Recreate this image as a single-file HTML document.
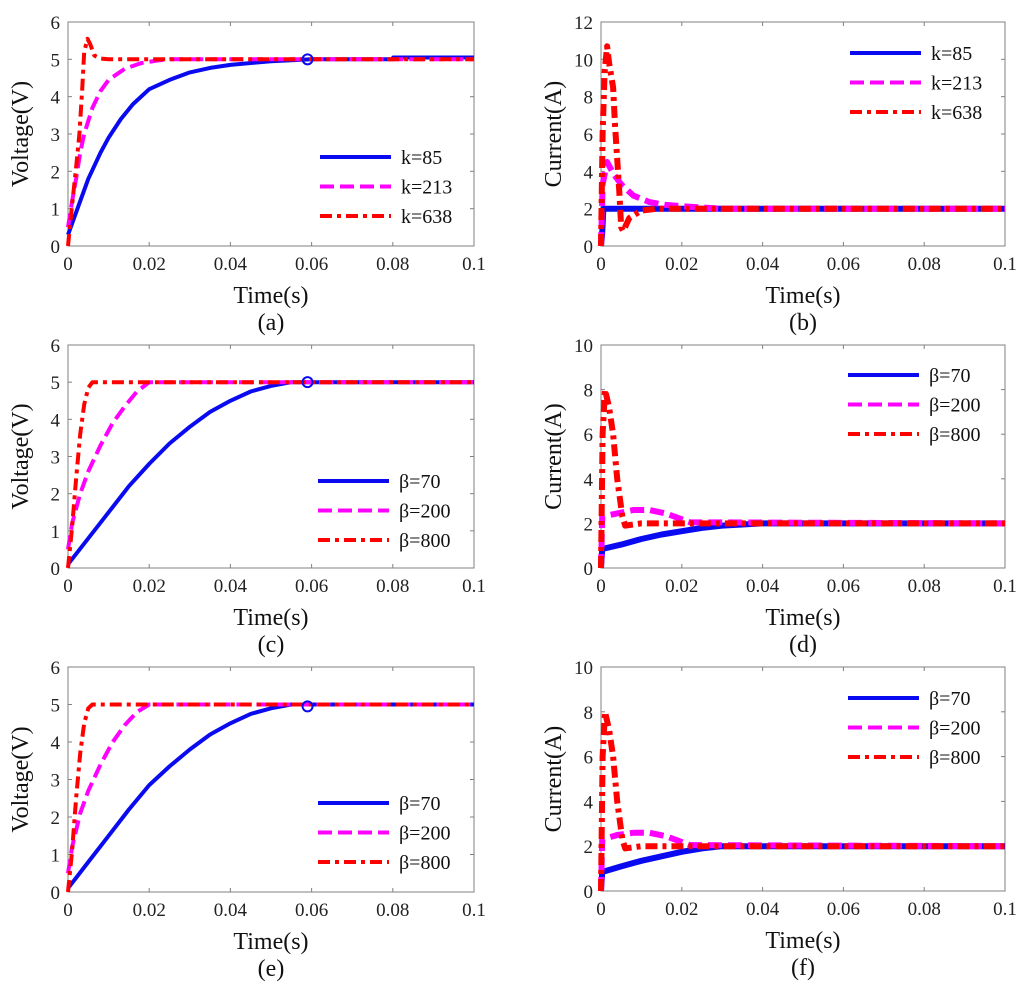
<!DOCTYPE html>
<html><head><meta charset="utf-8"><style>
html,body{margin:0;padding:0;background:#fff;}
svg{display:block;font-family:"Liberation Serif",serif;}
</style></head><body>
<svg id="fig" width="1024" height="990" viewBox="0 0 1024 990" xmlns="http://www.w3.org/2000/svg"></svg>
<script>
const xTicks = [0, 0.02, 0.04, 0.06, 0.08, 0.1];
const xTickLabels = ["0", "0.02", "0.04", "0.06", "0.08", "0.1"];
const vTicks = [0, 1, 2, 3, 4, 5, 6];
const iTicks12 = [0, 2, 4, 6, 8, 10, 12];
const iTicks10 = [0, 2, 4, 6, 8, 10];

// (a) voltage, k series
const aT85 = [0, 0.002, 0.005, 0.008, 0.01, 0.013, 0.016, 0.02, 0.025, 0.03, 0.035, 0.04, 0.05, 0.06, 0.08, 0.0801, 0.1];
const aV85 = [0.3, 0.9, 1.8, 2.5, 2.9, 3.4, 3.8, 4.2, 4.45, 4.65, 4.77, 4.85, 4.95, 5.0, 5.0, 5.05, 5.05];
const aT213 = [0, 0.001, 0.002, 0.003, 0.004, 0.006, 0.008, 0.01, 0.014, 0.018, 0.022, 0.025, 0.1];
const aV213 = [0.5, 1.2, 1.8, 2.5, 3.0, 3.7, 4.15, 4.45, 4.75, 4.9, 4.97, 5.0, 5.0];
const aT638 = [0, 0.001, 0.002, 0.0028, 0.0035, 0.004, 0.0048, 0.0055, 0.0065, 0.008, 0.01, 0.1];
const aV638 = [0, 1.1, 2.1, 3.0, 4.2, 5.2, 5.55, 5.4, 5.1, 5.02, 5.0, 5.0];

// (b) current, k series
const bT85 = [0, 0.0003, 0.0006, 0.1];
const bI85 = [0, 0.7, 2.0, 2.0];
const bT213 = [0, 0.0004, 0.0015, 0.003, 0.005, 0.008, 0.012, 0.016, 0.022, 0.03, 0.1];
const bI213 = [0, 3.3, 4.5, 3.9, 3.3, 2.7, 2.35, 2.2, 2.1, 2.0, 2.0];
const bT638 = [0, 0.0004, 0.0009, 0.0015, 0.002, 0.003, 0.0035, 0.0045, 0.005, 0.0055, 0.007, 0.01, 0.014, 0.1];
const bI638 = [0, 6.0, 9.3, 10.7, 9.8, 8.5, 6.4, 3.0, 1.0, 0.8, 1.5, 1.9, 2.0, 2.0];

// (c) voltage, beta series
const cT70 = [0, 0.005, 0.01, 0.015, 0.02, 0.025, 0.03, 0.035, 0.04, 0.045, 0.05, 0.055, 0.1];
const cV70 = [0.1, 0.8, 1.5, 2.2, 2.8, 3.35, 3.8, 4.2, 4.5, 4.75, 4.9, 5.0, 5.0];
const cT200 = [0, 0.001, 0.003, 0.005, 0.008, 0.011, 0.014, 0.017, 0.02, 0.1];
const cV200 = [0.5, 1.2, 2.0, 2.6, 3.3, 3.9, 4.35, 4.75, 5.0, 5.0];
const cT800 = [0, 0.001, 0.002, 0.003, 0.004, 0.005, 0.006, 0.1];
const cV800 = [0, 1.1, 2.4, 3.6, 4.4, 4.85, 5.0, 5.0];

// (d) current, beta series
const dT70 = [0, 0.0003, 0.005, 0.01, 0.015, 0.02, 0.025, 0.03, 0.04, 0.1];
const dI70 = [0, 0.85, 1.05, 1.3, 1.5, 1.65, 1.8, 1.9, 2.0, 2.0];
const dT200 = [0, 0.0003, 0.004, 0.008, 0.012, 0.016, 0.019, 0.022, 0.1];
const dI200 = [0, 2.3, 2.45, 2.6, 2.6, 2.45, 2.25, 2.05, 2.0];
const dT800 = [0, 0.0004, 0.001, 0.002, 0.003, 0.004, 0.0053, 0.006, 0.01, 0.1];
const dI800 = [0, 6.0, 8.0, 7.2, 6.0, 4.0, 2.3, 1.9, 2.0, 2.0];

// (e) voltage, beta series
const eT70 = [0, 0.005, 0.01, 0.015, 0.02, 0.025, 0.03, 0.035, 0.04, 0.045, 0.05, 0.055, 0.1];
const eV70 = [0.1, 0.8, 1.5, 2.2, 2.85, 3.35, 3.8, 4.2, 4.5, 4.75, 4.9, 5.0, 5.0];
const eT200 = [0, 0.001, 0.003, 0.005, 0.008, 0.011, 0.014, 0.017, 0.02, 0.1];
const eV200 = [0.5, 1.2, 2.1, 2.7, 3.4, 4.0, 4.45, 4.8, 5.0, 5.0];
const eT800 = [0, 0.001, 0.002, 0.003, 0.004, 0.005, 0.006, 0.1];
const eV800 = [0, 1.1, 2.5, 3.7, 4.5, 4.9, 5.0, 5.0];

// (f) current, beta series
const fT70 = [0, 0.0003, 0.005, 0.01, 0.015, 0.02, 0.025, 0.03, 0.1];
const fI70 = [0, 0.85, 1.1, 1.35, 1.55, 1.75, 1.9, 2.0, 2.0];
const fT200 = [0, 0.0003, 0.004, 0.008, 0.012, 0.016, 0.019, 0.022, 0.1];
const fI200 = [0, 2.3, 2.5, 2.6, 2.6, 2.45, 2.25, 2.05, 2.0];
const fT800 = [0, 0.0004, 0.001, 0.002, 0.003, 0.004, 0.0053, 0.006, 0.01, 0.1];
const fI800 = [0, 6.0, 8.0, 7.2, 6.0, 4.0, 2.3, 1.9, 2.0, 2.0];

const NS = "http://www.w3.org/2000/svg";
const svg = document.getElementById("fig");
function mk(tag, attrs, parent) {
  const e = document.createElementNS(NS, tag);
  for (const k in attrs) e.setAttribute(k, attrs[k]);
  (parent || svg).appendChild(e);
  return e;
}
const STY = {
  solid: {stroke: "#0a0af0", dash: "none"},
  dashed: {stroke: "#ff00ff", dash: "14 6"},
  dashdot: {stroke: "#ff0000", dash: "12 5 4 5"}
};

function panel(p) {
  const g = mk("g", {});
  
  
  const L = p.x0, R = p.x1, T = p.y0, B = p.y1;
  const sx = v => L + (v / 0.1) * (R - L);
  const sy = v => B - (v / p.ymax) * (B - T);
  const frame = mk("rect", {x: L, y: T, width: R - L, height: B - T, fill: "none", stroke: "#808080", "stroke-width": 1}, g);
  
  
  xTicks.forEach((t, i) => {
    const x = sx(t);
    mk("line", {x1: x, y1: B, x2: x, y2: B - 4, stroke: "#808080"}, g);
    mk("line", {x1: x, y1: T, x2: x, y2: T + 4, stroke: "#808080"}, g);
    const tx = mk("text", {x: x, y: B + 24, "font-size": 19, "text-anchor": "middle", fill: "#222"}, g);
    tx.textContent = xTickLabels[i];
    
    
  });
  p.yTicks.forEach(t => {
    const y = sy(t);
    mk("line", {x1: L, y1: y, x2: L + 4, y2: y, stroke: "#808080"}, g);
    mk("line", {x1: R, y1: y, x2: R - 4, y2: y, stroke: "#808080"}, g);
    const ty = mk("text", {x: L - 8, y: y + 7, "font-size": 19, "text-anchor": "end", fill: "#222"}, g);
    ty.textContent = String(t);
    
    
  });
  const xl = mk("text", {x: (L + R) / 2, y: B + 57, "font-size": 24, "text-anchor": "middle", fill: "#111"}, g);
  xl.textContent = "Time(s)";
  
  
  const ylx = L - 40, yly = (T + B) / 2;
  const yl = mk("text", {x: ylx, y: yly, "font-size": 24, "text-anchor": "middle", fill: "#111", transform: "rotate(-90 " + ylx + " " + yly + ")"}, g);
  yl.textContent = p.ylabel;
  
  
  const cap = mk("text", {x: (L + R) / 2, y: B + 84, "font-size": 24, "text-anchor": "middle", fill: "#111"}, g);
  cap.textContent = "(" + p.id + ")";
  
  
  p.series.forEach(s => {
    const d = s.t.map((t, i) => (i ? "L" : "M") + sx(t).toFixed(1) + " " + sy(s.v[i]).toFixed(1)).join(" ");
    const st = STY[s.style];
    const path = mk("path", {d: d, fill: "none", stroke: st.stroke, "stroke-width": p.wide ? 6 : 4, "stroke-dasharray": st.dash, "stroke-linejoin": "round"}, g);
    
    
  });
  if (p.marker) {
    const c = mk("circle", {cx: sx(p.marker[0]), cy: sy(p.marker[1]), r: 5, fill: "none", stroke: "#0a0af0", "stroke-width": 2}, g);
    
    
  }
  p.series.forEach((s, i) => {
    const y = p.legY + i * 29.5;
    const st = STY[s.style];
    const ln = mk("line", {x1: p.legX, y1: y, x2: p.legX + 71, y2: y, stroke: st.stroke, "stroke-width": 4, "stroke-dasharray": st.dash}, g);
    
    
    const tx = mk("text", {x: p.legX + 81, y: y + 7, "font-size": 20, fill: "#111"}, g);
    tx.textContent = s.name;
    
    
  });
}

panel({id: "a", x0: 68, x1: 474, y0: 22, y1: 246, ymax: 6, yTicks: vTicks, ylabel: "Voltage(V)", legX: 320, legY: 157, marker: [0.059, 5],
  series: [{name: "k=85", style: "solid", t: aT85, v: aV85}, {name: "k=213", style: "dashed", t: aT213, v: aV213}, {name: "k=638", style: "dashdot", t: aT638, v: aV638}]});
panel({id: "b", x0: 601, x1: 1005, y0: 22, y1: 246, ymax: 12, yTicks: iTicks12, ylabel: "Current(A)", legX: 850, legY: 53, wide: true,
  series: [{name: "k=85", style: "solid", t: bT85, v: bI85}, {name: "k=213", style: "dashed", t: bT213, v: bI213}, {name: "k=638", style: "dashdot", t: bT638, v: bI638}]});
panel({id: "c", x0: 68, x1: 474, y0: 345, y1: 568, ymax: 6, yTicks: vTicks, ylabel: "Voltage(V)", legX: 318, legY: 481, marker: [0.059, 5],
  series: [{name: "β=70", style: "solid", t: cT70, v: cV70}, {name: "β=200", style: "dashed", t: cT200, v: cV200}, {name: "β=800", style: "dashdot", t: cT800, v: cV800}]});
panel({id: "d", x0: 601, x1: 1005, y0: 345, y1: 568, ymax: 10, yTicks: iTicks10, ylabel: "Current(A)", legX: 848, legY: 375, wide: true,
  series: [{name: "β=70", style: "solid", t: dT70, v: dI70}, {name: "β=200", style: "dashed", t: dT200, v: dI200}, {name: "β=800", style: "dashdot", t: dT800, v: dI800}]});
panel({id: "e", x0: 68, x1: 474, y0: 667, y1: 892, ymax: 6, yTicks: vTicks, ylabel: "Voltage(V)", legX: 318, legY: 803, marker: [0.059, 4.95],
  series: [{name: "β=70", style: "solid", t: eT70, v: eV70}, {name: "β=200", style: "dashed", t: eT200, v: eV200}, {name: "β=800", style: "dashdot", t: eT800, v: eV800}]});
panel({id: "f", x0: 601, x1: 1005, y0: 667, y1: 891, ymax: 10, yTicks: iTicks10, ylabel: "Current(A)", legX: 848, legY: 698, wide: true,
  series: [{name: "β=70", style: "solid", t: fT70, v: fI70}, {name: "β=200", style: "dashed", t: fT200, v: fI200}, {name: "β=800", style: "dashdot", t: fT800, v: fI800}]});
</script>
</body></html>
